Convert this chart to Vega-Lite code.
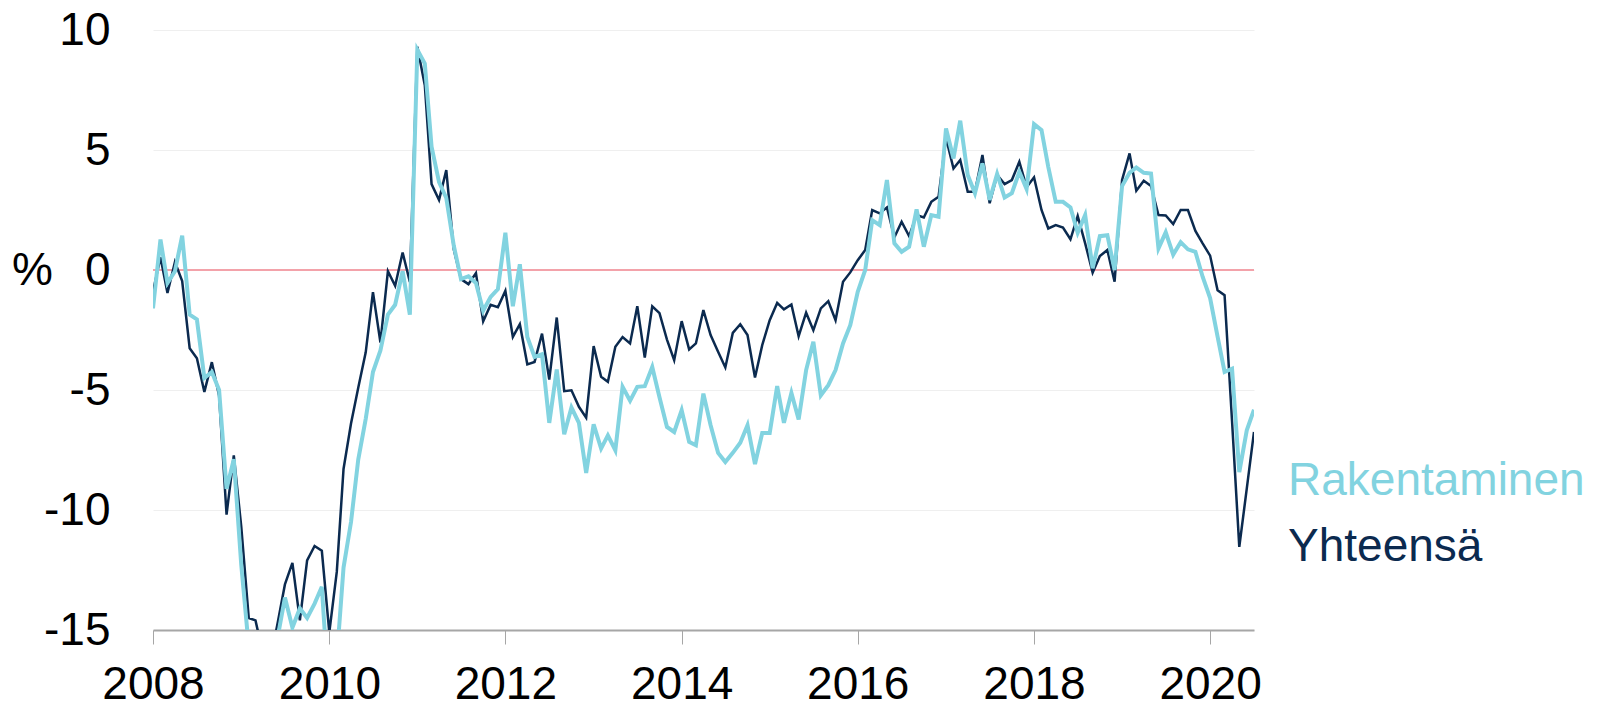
{
  "$schema": "https://vega.github.io/schema/vega-lite/v6.json",
  "width": 1101,
  "height": 600,
  "autosize": "none",
  "padding": {"left": 153, "top": 30, "right": 347, "bottom": 77},
  "background": "white",
  "config": {"view": {"stroke": null}, "font": "Liberation Sans"},
  "data": {"values": [
    {"date":"2008-01-01","rakentaminen":-1.6,"yhteensa":-0.9},
    {"date":"2008-02-01","rakentaminen":1.27,"yhteensa":0.53},
    {"date":"2008-03-01","rakentaminen":-0.54,"yhteensa":-0.96},
    {"date":"2008-04-01","rakentaminen":-0.05,"yhteensa":0.33},
    {"date":"2008-05-01","rakentaminen":1.43,"yhteensa":-0.46},
    {"date":"2008-06-01","rakentaminen":-1.86,"yhteensa":-3.26},
    {"date":"2008-07-01","rakentaminen":-2.06,"yhteensa":-3.68},
    {"date":"2008-08-01","rakentaminen":-4.5,"yhteensa":-5.08},
    {"date":"2008-09-01","rakentaminen":-4.25,"yhteensa":-3.84},
    {"date":"2008-10-01","rakentaminen":-5.0,"yhteensa":-5.24},
    {"date":"2008-11-01","rakentaminen":-9.12,"yhteensa":-10.19},
    {"date":"2008-12-01","rakentaminen":-7.88,"yhteensa":-7.72},
    {"date":"2009-01-01","rakentaminen":-12.3,"yhteensa":-10.7},
    {"date":"2009-02-01","rakentaminen":-15.7,"yhteensa":-14.5},
    {"date":"2009-03-01","rakentaminen":-17.0,"yhteensa":-14.6},
    {"date":"2009-04-01","rakentaminen":-17.5,"yhteensa":-16.0},
    {"date":"2009-05-01","rakentaminen":-17.0,"yhteensa":-16.3},
    {"date":"2009-06-01","rakentaminen":-15.3,"yhteensa":-14.7},
    {"date":"2009-07-01","rakentaminen":-13.65,"yhteensa":-13.1},
    {"date":"2009-08-01","rakentaminen":-14.9,"yhteensa":-12.2},
    {"date":"2009-09-01","rakentaminen":-14.1,"yhteensa":-14.6},
    {"date":"2009-10-01","rakentaminen":-14.5,"yhteensa":-12.1},
    {"date":"2009-11-01","rakentaminen":-13.9,"yhteensa":-11.5},
    {"date":"2009-12-01","rakentaminen":-13.2,"yhteensa":-11.7},
    {"date":"2010-01-01","rakentaminen":-18.0,"yhteensa":-15.1},
    {"date":"2010-02-01","rakentaminen":-16.2,"yhteensa":-12.58},
    {"date":"2010-03-01","rakentaminen":-12.4,"yhteensa":-8.29},
    {"date":"2010-04-01","rakentaminen":-10.5,"yhteensa":-6.4},
    {"date":"2010-05-01","rakentaminen":-7.9,"yhteensa":-4.91},
    {"date":"2010-06-01","rakentaminen":-6.2,"yhteensa":-3.43},
    {"date":"2010-07-01","rakentaminen":-4.25,"yhteensa":-0.92},
    {"date":"2010-08-01","rakentaminen":-3.35,"yhteensa":-3.02},
    {"date":"2010-09-01","rakentaminen":-1.86,"yhteensa":-0.05},
    {"date":"2010-10-01","rakentaminen":-1.45,"yhteensa":-0.66},
    {"date":"2010-11-01","rakentaminen":-0.05,"yhteensa":0.73},
    {"date":"2010-12-01","rakentaminen":-1.86,"yhteensa":-0.5},
    {"date":"2011-01-01","rakentaminen":9.18,"yhteensa":9.3},
    {"date":"2011-02-01","rakentaminen":8.6,"yhteensa":7.7},
    {"date":"2011-03-01","rakentaminen":5.14,"yhteensa":3.58},
    {"date":"2011-04-01","rakentaminen":3.66,"yhteensa":2.92},
    {"date":"2011-05-01","rakentaminen":3.0,"yhteensa":4.16},
    {"date":"2011-06-01","rakentaminen":1.02,"yhteensa":0.86},
    {"date":"2011-07-01","rakentaminen":-0.38,"yhteensa":-0.38},
    {"date":"2011-08-01","rakentaminen":-0.26,"yhteensa":-0.59},
    {"date":"2011-09-01","rakentaminen":-0.54,"yhteensa":-0.13},
    {"date":"2011-10-01","rakentaminen":-1.7,"yhteensa":-2.14},
    {"date":"2011-11-01","rakentaminen":-1.12,"yhteensa":-1.45},
    {"date":"2011-12-01","rakentaminen":-0.8,"yhteensa":-1.55},
    {"date":"2012-01-01","rakentaminen":1.55,"yhteensa":-0.87},
    {"date":"2012-02-01","rakentaminen":-1.51,"yhteensa":-2.79},
    {"date":"2012-03-01","rakentaminen":0.24,"yhteensa":-2.26},
    {"date":"2012-04-01","rakentaminen":-2.79,"yhteensa":-3.93},
    {"date":"2012-05-01","rakentaminen":-3.62,"yhteensa":-3.83},
    {"date":"2012-06-01","rakentaminen":-3.51,"yhteensa":-2.65},
    {"date":"2012-07-01","rakentaminen":-6.37,"yhteensa":-4.57},
    {"date":"2012-08-01","rakentaminen":-4.15,"yhteensa":-1.98},
    {"date":"2012-09-01","rakentaminen":-6.84,"yhteensa":-5.05},
    {"date":"2012-10-01","rakentaminen":-5.73,"yhteensa":-5.01},
    {"date":"2012-11-01","rakentaminen":-6.37,"yhteensa":-5.7},
    {"date":"2012-12-01","rakentaminen":-8.46,"yhteensa":-6.15},
    {"date":"2013-01-01","rakentaminen":-6.43,"yhteensa":-3.17},
    {"date":"2013-02-01","rakentaminen":-7.44,"yhteensa":-4.45},
    {"date":"2013-03-01","rakentaminen":-6.89,"yhteensa":-4.66},
    {"date":"2013-04-01","rakentaminen":-7.51,"yhteensa":-3.2},
    {"date":"2013-05-01","rakentaminen":-4.87,"yhteensa":-2.79},
    {"date":"2013-06-01","rakentaminen":-5.45,"yhteensa":-3.06},
    {"date":"2013-07-01","rakentaminen":-4.87,"yhteensa":-1.51},
    {"date":"2013-08-01","rakentaminen":-4.84,"yhteensa":-3.65},
    {"date":"2013-09-01","rakentaminen":-4.04,"yhteensa":-1.51},
    {"date":"2013-10-01","rakentaminen":-5.3,"yhteensa":-1.8},
    {"date":"2013-11-01","rakentaminen":-6.54,"yhteensa":-2.9},
    {"date":"2013-12-01","rakentaminen":-6.75,"yhteensa":-3.76},
    {"date":"2014-01-01","rakentaminen":-5.84,"yhteensa":-2.13},
    {"date":"2014-02-01","rakentaminen":-7.16,"yhteensa":-3.31},
    {"date":"2014-03-01","rakentaminen":-7.3,"yhteensa":-3.06},
    {"date":"2014-04-01","rakentaminen":-5.15,"yhteensa":-1.67},
    {"date":"2014-05-01","rakentaminen":-6.47,"yhteensa":-2.71},
    {"date":"2014-06-01","rakentaminen":-7.62,"yhteensa":-3.41},
    {"date":"2014-07-01","rakentaminen":-8.0,"yhteensa":-4.06},
    {"date":"2014-08-01","rakentaminen":-7.62,"yhteensa":-2.62},
    {"date":"2014-09-01","rakentaminen":-7.2,"yhteensa":-2.26},
    {"date":"2014-10-01","rakentaminen":-6.47,"yhteensa":-2.71},
    {"date":"2014-11-01","rakentaminen":-8.09,"yhteensa":-4.48},
    {"date":"2014-12-01","rakentaminen":-6.79,"yhteensa":-3.13},
    {"date":"2015-01-01","rakentaminen":-6.79,"yhteensa":-2.09},
    {"date":"2015-02-01","rakentaminen":-4.84,"yhteensa":-1.37},
    {"date":"2015-03-01","rakentaminen":-6.37,"yhteensa":-1.64},
    {"date":"2015-04-01","rakentaminen":-5.12,"yhteensa":-1.44},
    {"date":"2015-05-01","rakentaminen":-6.23,"yhteensa":-2.76},
    {"date":"2015-06-01","rakentaminen":-4.17,"yhteensa":-1.78},
    {"date":"2015-07-01","rakentaminen":-2.99,"yhteensa":-2.51},
    {"date":"2015-08-01","rakentaminen":-5.22,"yhteensa":-1.6},
    {"date":"2015-09-01","rakentaminen":-4.8,"yhteensa":-1.3},
    {"date":"2015-10-01","rakentaminen":-4.17,"yhteensa":-2.09},
    {"date":"2015-11-01","rakentaminen":-3.06,"yhteensa":-0.49},
    {"date":"2015-12-01","rakentaminen":-2.3,"yhteensa":-0.1},
    {"date":"2016-01-01","rakentaminen":-0.91,"yhteensa":0.41},
    {"date":"2016-02-01","rakentaminen":0.0,"yhteensa":0.83},
    {"date":"2016-03-01","rakentaminen":2.08,"yhteensa":2.5},
    {"date":"2016-04-01","rakentaminen":1.87,"yhteensa":2.36},
    {"date":"2016-05-01","rakentaminen":3.75,"yhteensa":2.61},
    {"date":"2016-06-01","rakentaminen":1.11,"yhteensa":1.36},
    {"date":"2016-07-01","rakentaminen":0.76,"yhteensa":2.01},
    {"date":"2016-08-01","rakentaminen":0.97,"yhteensa":1.41},
    {"date":"2016-09-01","rakentaminen":2.53,"yhteensa":2.29},
    {"date":"2016-10-01","rakentaminen":0.97,"yhteensa":2.19},
    {"date":"2016-11-01","rakentaminen":2.29,"yhteensa":2.84},
    {"date":"2016-12-01","rakentaminen":2.22,"yhteensa":3.05},
    {"date":"2017-01-01","rakentaminen":5.9,"yhteensa":5.5},
    {"date":"2017-02-01","rakentaminen":4.65,"yhteensa":4.23},
    {"date":"2017-03-01","rakentaminen":6.22,"yhteensa":4.58},
    {"date":"2017-04-01","rakentaminen":3.96,"yhteensa":3.26},
    {"date":"2017-05-01","rakentaminen":3.2,"yhteensa":3.26},
    {"date":"2017-06-01","rakentaminen":4.44,"yhteensa":4.79},
    {"date":"2017-07-01","rakentaminen":2.92,"yhteensa":2.78},
    {"date":"2017-08-01","rakentaminen":4.0,"yhteensa":3.96},
    {"date":"2017-09-01","rakentaminen":3.02,"yhteensa":3.58},
    {"date":"2017-10-01","rakentaminen":3.2,"yhteensa":3.75},
    {"date":"2017-11-01","rakentaminen":4.09,"yhteensa":4.51},
    {"date":"2017-12-01","rakentaminen":3.38,"yhteensa":3.45},
    {"date":"2018-01-01","rakentaminen":6.08,"yhteensa":3.86},
    {"date":"2018-02-01","rakentaminen":5.83,"yhteensa":2.5},
    {"date":"2018-03-01","rakentaminen":4.3,"yhteensa":1.73},
    {"date":"2018-04-01","rakentaminen":2.84,"yhteensa":1.87},
    {"date":"2018-05-01","rakentaminen":2.84,"yhteensa":1.77},
    {"date":"2018-06-01","rakentaminen":2.61,"yhteensa":1.28},
    {"date":"2018-07-01","rakentaminen":1.55,"yhteensa":2.25},
    {"date":"2018-08-01","rakentaminen":2.29,"yhteensa":1.11},
    {"date":"2018-09-01","rakentaminen":0.07,"yhteensa":-0.11},
    {"date":"2018-10-01","rakentaminen":1.41,"yhteensa":0.58},
    {"date":"2018-11-01","rakentaminen":1.45,"yhteensa":0.83},
    {"date":"2018-12-01","rakentaminen":0.0,"yhteensa":-0.49},
    {"date":"2019-01-01","rakentaminen":3.5,"yhteensa":3.75},
    {"date":"2019-02-01","rakentaminen":4.05,"yhteensa":4.86},
    {"date":"2019-03-01","rakentaminen":4.27,"yhteensa":3.3},
    {"date":"2019-04-01","rakentaminen":4.05,"yhteensa":3.72},
    {"date":"2019-05-01","rakentaminen":4.02,"yhteensa":3.5},
    {"date":"2019-06-01","rakentaminen":0.9,"yhteensa":2.29},
    {"date":"2019-07-01","rakentaminen":1.57,"yhteensa":2.27},
    {"date":"2019-08-01","rakentaminen":0.64,"yhteensa":1.91},
    {"date":"2019-09-01","rakentaminen":1.16,"yhteensa":2.5},
    {"date":"2019-10-01","rakentaminen":0.86,"yhteensa":2.5},
    {"date":"2019-11-01","rakentaminen":0.76,"yhteensa":1.63},
    {"date":"2019-12-01","rakentaminen":-0.28,"yhteensa":1.11},
    {"date":"2020-01-01","rakentaminen":-1.17,"yhteensa":0.6},
    {"date":"2020-02-01","rakentaminen":-2.78,"yhteensa":-0.84},
    {"date":"2020-03-01","rakentaminen":-4.25,"yhteensa":-1.05},
    {"date":"2020-04-01","rakentaminen":-4.11,"yhteensa":-6.3},
    {"date":"2020-05-01","rakentaminen":-8.42,"yhteensa":-11.54},
    {"date":"2020-06-01","rakentaminen":-6.68,"yhteensa":-9.11},
    {"date":"2020-07-01","rakentaminen":-5.82,"yhteensa":-6.75}
  ]},
  "encoding": {
    "x": {
      "field": "date",
      "type": "temporal",
      "scale": {"type": "utc", "domain": [{"year": 2008, "month": 1, "date": 1, "utc": true}, {"year": 2020, "month": 7, "date": 1, "utc": true}]},
      "axis": {
        "values": [
          {"year": 2008, "month": 1, "date": 1, "utc": true},
          {"year": 2010, "month": 1, "date": 1, "utc": true},
          {"year": 2012, "month": 1, "date": 1, "utc": true},
          {"year": 2014, "month": 1, "date": 1, "utc": true},
          {"year": 2016, "month": 1, "date": 1, "utc": true},
          {"year": 2018, "month": 1, "date": 1, "utc": true},
          {"year": 2020, "month": 1, "date": 1, "utc": true}
        ],
        "format": "%Y",
        "title": null,
        "grid": false,
        "labelFontSize": 46,
        "labelColor": "#000000",
        "labelFlush": false,
        "labelOverlap": false,
        "labelPadding": 18,
        "tickSize": 14,
        "tickColor": "#a6a6a6",
        "tickWidth": 1,
        "domainColor": "#a6a6a6",
        "domainWidth": 2
      }
    }
  },
  "layer": [
    {
      "mark": {"type": "rule", "color": "#f3a2aa", "strokeWidth": 1.5},
      "encoding": {"y": {"datum": 0, "type": "quantitative"}, "x": null}
    },
    {
      "mark": {"type": "line", "clip": true, "strokeWidth": 2.5},
      "encoding": {
        "y": {
          "field": "yhteensa",
          "type": "quantitative",
          "scale": {"domain": [-15, 10], "nice": false, "zero": false},
          "axis": {
            "values": [-15, -10, -5, 0, 5, 10],
            "labelExpr": "toString(datum.value)",
            "grid": true,
            "gridColor": "#efefef",
            "gridWidth": 1,
            "domain": false,
            "ticks": false,
            "labelFontSize": 46,
            "labelColor": "#000000",
            "labelPadding": 43,
            "labelFlush": false,
            "labelOverlap": false,
            "title": "%",
            "titleAngle": 0,
            "titleFontSize": 46,
            "titleFontWeight": "normal",
            "titleColor": "#000000",
            "titleX": -121,
            "titleY": 240,
            "titleAlign": "center",
            "titleBaseline": "middle"
          }
        },
        "color": {
          "datum": "Yhteensä",
          "type": "nominal",
          "scale": {"domain": ["Rakentaminen", "Yhteensä"], "range": ["#82d3e0", "#0b2a4f"]},
          "legend": {
            "orient": "none",
            "legendX": 1089,
            "legendY": 428,
            "title": null,
            "padding": 0,
            "labelFontSize": 46,
            "labelColor": {"expr": "datum.value == 'Rakentaminen' ? '#82d3e0' : '#0b2a4f'"},
            "labelOffset": 0,
            "symbolSize": 0,
            "symbolOpacity": 0,
            "symbolStrokeWidth": 0,
            "symbolType": "circle",
            "rowPadding": 20,
            "labelLimit": 400
          }
        }
      }
    },
    {
      "mark": {"type": "line", "clip": true, "strokeWidth": 4},
      "encoding": {
        "y": {"field": "rakentaminen", "type": "quantitative"},
        "color": {"datum": "Rakentaminen", "type": "nominal"}
      }
    }
  ]
}
